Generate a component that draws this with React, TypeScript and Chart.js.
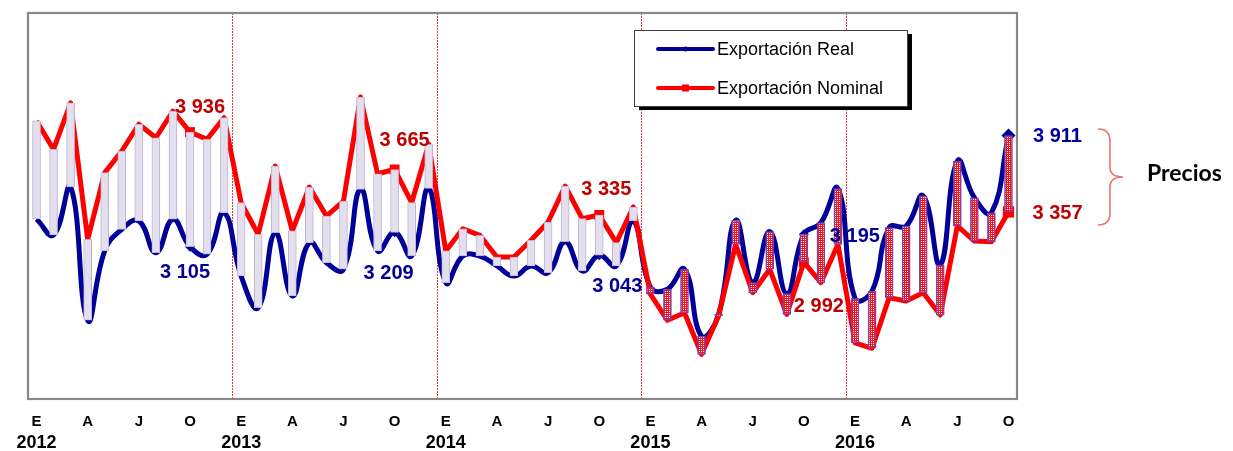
import React, { useEffect, useRef } from 'react';
import { Chart, registerables } from 'chart.js';

Chart.register(...registerables);

// ---------- DATA ----------
const years = [2012, 2013, 2014, 2015, 2016];
const monthTicks = ['E', '', '', 'A', '', '', 'J', '', '', 'O', '', ''];
const monthCount = 58; // Jan 2012 .. Oct 2016

const categories: string[] = [];
for (const y of years) {
  for (let m = 1; m <= 12; m++) {
    if (categories.length < monthCount) categories.push(`${y}-${String(m).padStart(2, '0')}`);
  }
}

const realExports = [
  3306, 3190, 3538, 2571, 3074, 3231, 3291, 3061, 3304, 3105, 3050, 3351,
  2892, 2662, 3206, 2747, 3134, 2989, 2941, 3521, 3074, 3209, 3037, 3528,
  2844, 3037, 3037, 2965, 2892, 2965, 2916, 3141, 2929, 3043, 2965, 3291,
  2812, 2796, 2941, 2457, 2614, 3296, 2844, 3214, 2764, 3195, 3279, 3527,
  2729, 2783, 3243, 3255, 3473, 2972, 3726, 3460, 3351, 3911,
];

const nominalExports = [
  4017, 3811, 4149, 3158, 3642, 3799, 3993, 3895, 4089, 3936, 3884, 4041,
  3424, 3195, 3690, 3219, 3538, 3327, 3436, 4191, 3634, 3665, 3424, 3848,
  3074, 3235, 3187, 3030, 3030, 3151, 3284, 3545, 3308, 3335, 3134, 3393,
  2760, 2571, 2626, 2324, 2602, 3122, 2771, 2941, 2614, 2992, 2844, 3122,
  2408, 2368, 2735, 2711, 2771, 2609, 3255, 3146, 3141, 3357,
];

const seriesNames = ['Exportación Real', 'Exportación Nominal'];
const highlightIndex = [9, 21, 33, 45, 57]; // October of each year
const patternStartIndex = 36; // from Jan 2015 bars are patterned
const bracketLabel = 'Precios';

// value labels: which series/point is labelled (placement offsets kept apart)
const labelledPoints = [
  { series: 'nominal', index: 9 },
  { series: 'real', index: 9 },
  { series: 'nominal', index: 21 },
  { series: 'real', index: 21 },
  { series: 'nominal', index: 33 },
  { series: 'real', index: 33 },
  { series: 'nominal', index: 45 },
  { series: 'real', index: 45 },
  { series: 'real', index: 57 },
  { series: 'nominal', index: 57 },
];

// ---------- STYLE ----------
const labelOffsets: [number, number][] = [
  [10, -25], [-5, 26], [10, -29], [-6, 41], [7, -25],
  [18, 31], [15, 44], [51, 2], [49, 1], [49, 2],
];
const BLUE = '#000099';
const RED = '#FF0000';
const DARKRED = '#C00000';
const FONT = '"Liberation Sans", Arial, sans-serif';

function fmt(v: number): string {
  const th = Math.floor(v / 1000);
  const rest = String(v % 1000).padStart(3, '0');
  return `${th} ${rest}`;
}

export default function App() {
  const ref = useRef<HTMLCanvasElement>(null);

  useEffect(() => {
    const canvas = ref.current!;
    const ctx2d = canvas.getContext('2d')!;

    const tile = document.createElement('canvas');
    tile.width = 4;
    tile.height = 4;
    const tc = tile.getContext('2d')!;
    tc.fillStyle = '#FF1010';
    tc.fillRect(0, 0, 4, 4);
    tc.fillStyle = '#FFFFFF';
    tc.fillRect(1, 1, 1, 1);
    tc.fillRect(3, 3, 1, 1);
    tc.fillRect(1, 3, 1, 1);
    tc.fillRect(3, 1, 1, 1);
    const pattern = ctx2d.createPattern(tile, 'repeat')!;

    const ranges = categories.map((_, i) => [realExports[i], nominalExports[i]]);
    const early = ranges.map((r, i) => (i < patternStartIndex ? r : null));
    const late = ranges.map((r, i) => (i >= patternStartIndex ? r : null));

    const overlay = {
      id: 'overlay',
      afterDraw(chart: any) {
        const { ctx, chartArea } = chart;
        const xs = chart.scales.x;
        const ys = chart.scales.y;
        ctx.save();

        // frame
        ctx.strokeStyle = '#888888';
        ctx.lineWidth = 2.2;
        ctx.strokeRect(chartArea.left, chartArea.top, chartArea.right - chartArea.left, chartArea.bottom - chartArea.top);

        // year labels
        ctx.fillStyle = '#000';
        ctx.font = `bold 18px ${FONT}`;
        ctx.textAlign = 'center';
        ctx.textBaseline = 'middle';
        years.forEach((y, k) => {
          const idx = k * 12;
          if (idx < monthCount) ctx.fillText(String(y), xs.getPixelForValue(idx), 443);
        });

        // value labels
        ctx.font = `bold 20px ${FONT}`;
        labelledPoints.forEach((p, k) => {
          const v = p.series === 'real' ? realExports[p.index] : nominalExports[p.index];
          const [dx, dy] = labelOffsets[k];
          ctx.fillStyle = p.series === 'real' ? BLUE : DARKRED;
          ctx.fillText(fmt(v), xs.getPixelForValue(p.index) + dx, ys.getPixelForValue(v) + dy);
        });

        // legend
        const lx = 634, ly = 30, lw = 273, lh = 76;
        ctx.fillStyle = '#000';
        ctx.fillRect(lx + 5, ly + 4, lw, lh);
        ctx.fillStyle = '#fff';
        ctx.fillRect(lx, ly, lw, lh);
        ctx.strokeStyle = '#404040';
        ctx.lineWidth = 1;
        ctx.strokeRect(lx + 0.5, ly + 0.5, lw, lh);
        const rows = [
          { y: 49, color: BLUE, name: seriesNames[0], square: false },
          { y: 88, color: RED, name: seriesNames[1], square: true },
        ];
        rows.forEach((r) => {
          ctx.strokeStyle = r.color;
          ctx.lineWidth = 4;
          ctx.lineCap = 'round';
          ctx.beginPath();
          ctx.moveTo(658, r.y);
          ctx.lineTo(713, r.y);
          ctx.stroke();
          ctx.fillStyle = r.color;
          if (r.square) ctx.fillRect(682, r.y - 3.5, 7, 7);
          else {
            ctx.beginPath();
            ctx.arc(685.5, r.y, 2.5, 0, Math.PI * 2);
            ctx.fill();
          }
          ctx.fillStyle = '#000';
          ctx.font = `18px ${FONT}`;
          ctx.textAlign = 'left';
          ctx.textBaseline = 'middle';
          ctx.fillText(r.name, 717, r.y + 1);
        });

        // brace
        ctx.strokeStyle = '#F07070';
        ctx.lineWidth = 1.6;
        ctx.lineCap = 'butt';
        ctx.beginPath();
        ctx.moveTo(1098, 129);
        ctx.quadraticCurveTo(1110, 129, 1110, 141);
        ctx.lineTo(1110, 167);
        ctx.quadraticCurveTo(1110, 177, 1123, 177);
        ctx.quadraticCurveTo(1110, 177, 1110, 187);
        ctx.lineTo(1110, 213);
        ctx.quadraticCurveTo(1110, 225, 1098, 225);
        ctx.stroke();

        ctx.fillStyle = '#000';
        ctx.font = 'bold 23px Lato, "Open Sans", sans-serif';
        ctx.textAlign = 'left';
        ctx.textBaseline = 'middle';
        ctx.fillText(bracketLabel, 1147, 174);

        ctx.restore();
      },
    };

    const isHi = (i: number) => highlightIndex.includes(i);

    const chart = new Chart(canvas, {
      type: 'bar',
      data: {
        labels: categories,
        datasets: [
          {
            type: 'bar',
            data: early as any,
            backgroundColor: '#E3DFEC',
            borderColor: '#BDB3D6',
            borderWidth: 1,
            borderSkipped: false,
            barThickness: 8,
            grouped: false,
            order: 0,
          } as any,
          {
            type: 'bar',
            data: late as any,
            backgroundColor: pattern,
            borderColor: '#7A40B8',
            borderWidth: 1.5,
            borderSkipped: false,
            barThickness: 8,
            grouped: false,
            order: 0,
          } as any,
          {
            type: 'line',
            label: seriesNames[1],
            data: nominalExports,
            borderColor: RED,
            backgroundColor: RED,
            borderWidth: 5,
            borderJoinStyle: 'round',
            tension: 0,
            pointStyle: 'rect',
            pointRadius: nominalExports.map((_, i) => (i === 57 ? 8 : isHi(i) ? 7 : 0)),
            pointBorderWidth: 0,
            pointBackgroundColor: RED,
            order: 1,
          } as any,
          {
            type: 'line',
            label: seriesNames[0],
            data: realExports,
            borderColor: BLUE,
            backgroundColor: BLUE,
            borderWidth: 5,
            borderJoinStyle: 'round',
            tension: 0.45,
            pointStyle: 'rectRot',
            pointRadius: realExports.map((_, i) => (i === 57 ? 7 : isHi(i) ? 5 : 0)),
            pointBorderWidth: 0,
            pointBackgroundColor: BLUE,
            order: 2,
          } as any,
        ],
      },
      options: {
        responsive: false,
        animation: false,
        devicePixelRatio: 1,
        layout: { padding: { left: 28, right: 216, top: 13, bottom: 0 } },
        plugins: { legend: { display: false }, tooltip: { enabled: false } },
        scales: {
          x: {
            type: 'category',
            offset: true,
            grid: {
              offset: true,
              drawTicks: false,
              lineWidth: 1,
              color: (c: any) => (c.index > 0 && c.index % 12 === 0 && c.index < monthCount ? '#FF3030' : 'rgba(0,0,0,0)'),
            },
            border: { display: false, dash: [2, 1] },
            ticks: {
              autoSkip: false,
              maxRotation: 0,
              minRotation: 0,
              padding: 14,
              color: '#000',
              font: { family: FONT, size: 15, weight: 'bold' },
              callback: (_v: any, i: number) => monthTicks[i % 12],
            },
            afterFit: (s: any) => {
              s.height = 52;
            },
          } as any,
          y: { display: false, min: 2000, max: 4800 },
        },
      },
      plugins: [overlay],
    });

    return () => chart.destroy();
  }, []);

  return (
    <div style={{ position: 'absolute', left: 0, top: 0, width: 1233, height: 451, background: '#fff' }}>
      <canvas ref={ref} width={1233} height={451} style={{ display: 'block' }} />
    </div>
  );
}
